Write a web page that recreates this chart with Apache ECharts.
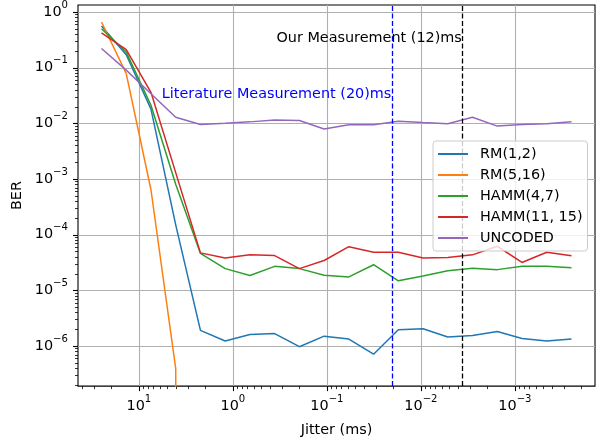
<!DOCTYPE html>
<html><head><meta charset="utf-8">
<script src="https://cdn.jsdelivr.net/npm/echarts@6/dist/echarts.min.js"></script>
<style>html,body{margin:0;padding:0;background:#fff}#c{width:600px;height:442px}</style>
</head><body><div id="c"></div>
<script>
// ---- data ----
const jitter = [25, 13.64, 7.442, 4.060, 2.215, 1.209, 0.6594, 0.3598, 0.1963, 0.1071,
                0.05843, 0.03188, 0.01739, 0.009490, 0.005178, 0.002825, 0.001541, 0.000841, 0.0004588, 0.00025];
const rm12    = [0.56, 0.17, 0.018, 1.5e-4, 1.9e-6, 1.23e-6, 1.61e-6, 1.67e-6, 9.7e-7, 1.5e-6,
                 1.33e-6, 7.1e-7, 1.95e-6, 2.03e-6, 1.45e-6, 1.54e-6, 1.82e-6, 1.36e-6, 1.23e-6, 1.33e-6];
const rm516   = [0.66, 0.078, 6.4e-4, 3.9e-7, 0, 0, 0, 0, 0, 0, 0, 0, 0, 0, 0, 0, 0, 0, 0, 0];
const hamm47  = [0.50, 0.19, 0.021, 8.0e-4, 4.6e-5, 2.45e-5, 1.84e-5, 2.69e-5, 2.45e-5, 1.86e-5,
                 1.74e-5, 2.88e-5, 1.48e-5, 1.81e-5, 2.25e-5, 2.48e-5, 2.35e-5, 2.69e-5, 2.69e-5, 2.55e-5];
const hamm1115 = [0.42, 0.21, 0.036, 1.3e-3, 4.7e-5, 3.79e-5, 4.33e-5, 4.2e-5, 2.45e-5, 3.43e-5,
                  6.08e-5, 4.83e-5, 4.83e-5, 3.79e-5, 3.88e-5, 4.33e-5, 6.18e-5, 3.16e-5, 4.83e-5, 4.16e-5];
const uncoded = [0.22, 0.09, 0.034, 0.0128, 0.0095, 0.0100, 0.0106, 0.0115, 0.0112, 0.0079,
                 0.0094, 0.0094, 0.0109, 0.0103, 0.0098, 0.0128, 0.0089, 0.0095, 0.0098, 0.0107];
const seriesNames = ['RM(1,2)', 'RM(5,16)', 'HAMM(4,7)', 'HAMM(11, 15)', 'UNCODED'];
const seriesValues = [rm12, rm516, hamm47, hamm1115, uncoded];
const xMajorTicks = [10, 1, 0.1, 0.01, 0.001];
const yMajorTicks = [1, 0.1, 0.01, 0.001, 1e-4, 1e-5, 1e-6];
const literatureJitter = 0.02;
const ourJitter = 0.0036;
const annotations = [
  {text: 'Our Measurement (12)ms', x: 0.344, y: 0.336, color: '#000000'},
  {text: 'Literature Measurement (20)ms', x: 5.7, y: 0.0327, color: '#0000ff'}
];

// ---- style ----
const colors = ['#1f77b4', '#ff7f0e', '#2ca02c', '#d62728', '#9467bd'];
const FONT = 'DejaVu Sans';
const FS = 14.4;
const X_MIN = 1.406e-4, X_MAX = 44.46;
const Y_MIN = 1.9e-7, Y_MAX = 1.33;
const ZERO_FLOOR = 1e-100; // log-scale stand-in for zero (clipped like matplotlib)

function minorTicks(lo, hi) {
  const out = [];
  for (let d = -8; d <= 2; d++) {
    for (let m = 2; m <= 9; m++) {
      const v = m * Math.pow(10, d);
      if (v > lo && v < hi) out.push(v);
    }
  }
  return out;
}
const decor = [];
xMajorTicks.forEach(v => decor.push([v, Y_MIN, 0]));
minorTicks(X_MIN, X_MAX).forEach(v => decor.push([v, Y_MIN, 1]));
yMajorTicks.forEach(v => decor.push([X_MAX, v, 2]));
minorTicks(Y_MIN, Y_MAX).forEach(v => decor.push([X_MAX, v, 3]));

function powLabel(v) {
  const e = Math.round(Math.log10(v));
  return '{b|10}{s|' + (e < 0 ? '\u2212' + (-e) : e) + '}';
}
const richLbl = {
  b: {fontFamily: FONT, fontSize: FS, lineHeight: 24, verticalAlign: 'middle', color: '#000'},
  s: {fontFamily: FONT, fontSize: 10.1, lineHeight: 10, padding: [0, 0, 14, 0], verticalAlign: 'middle', color: '#000'}
};

const dashed = [5, 2.5];
const series = seriesNames.map((name, i) => ({
  name, type: 'line', symbol: 'none', showSymbol: false, clip: true, z: 3,
  color: colors[i],
  lineStyle: {width: 1.5, color: colors[i]},
  data: jitter.map((x, k) => [x, seriesValues[i][k] > 0 ? seriesValues[i][k] : ZERO_FLOOR])
}));
series[0].markLine = {
  silent: true, symbol: 'none', label: {show: false}, precision: 8,
  lineStyle: {color: '#0000ff', type: dashed, width: 1.3},
  data: [{xAxis: literatureJitter}]
};
series[3].markLine = {
  silent: true, symbol: 'none', label: {show: false}, precision: 8,
  lineStyle: {color: '#000000', type: dashed, width: 1.3},
  data: [{xAxis: ourJitter}]
};
series[4].markPoint = {
  silent: true,
  data: annotations.map(a => ({
    coord: [a.x, a.y], symbol: 'circle', symbolSize: 0,
    label: {show: true, position: 'right', distance: 0, formatter: a.text,
            color: a.color, fontFamily: FONT, fontSize: FS}
  }))
};
series.push({
  type: 'custom', z: 1, clip: false, silent: true,
  encode: {x: 0, y: 1},
  data: decor,
  renderItem(params, api) {
    const kind = api.value(2);
    const cs = params.coordSys;
    const children = [];
    if (kind < 2) {
      const p = api.coord([api.value(0), Y_MIN]);
      const x = Math.round(p[0]) + 0.5;
      const yb = cs.y + cs.height;
      if (kind === 0) children.push({type: 'line', shape: {x1: x, y1: cs.y, x2: x, y2: yb}, style: {stroke: '#b0b0b0', lineWidth: 1.1}});
      children.push({type: 'line', shape: {x1: x, y1: yb, x2: x, y2: yb + (kind === 0 ? 5 : 3)}, style: {stroke: '#000', lineWidth: kind === 0 ? 1.1 : 0.8}});
    } else {
      const p = api.coord([X_MAX, api.value(1)]);
      const y = Math.round(p[1]) + 0.5;
      if (kind === 2) children.push({type: 'line', shape: {x1: cs.x, y1: y, x2: cs.x + cs.width, y2: y}, style: {stroke: '#b0b0b0', lineWidth: 1.1}});
      children.push({type: 'line', shape: {x1: cs.x, y1: y, x2: cs.x - (kind === 2 ? 5 : 3), y2: y}, style: {stroke: '#000', lineWidth: kind === 2 ? 1.1 : 0.8}});
    }
    return {type: 'group', children};
  }
});

const chart = echarts.init(document.getElementById('c'), null, {renderer: 'canvas'});
chart.setOption({
  animation: false,
  backgroundColor: '#fff',
  grid: {left: 78, right: 5, top: 3, bottom: 53, show: true, borderColor: '#000', borderWidth: 1.1, backgroundColor: 'transparent'},
  xAxis: {
    type: 'log', logBase: 10, min: X_MIN, max: X_MAX, inverse: true,
    name: 'Jitter (ms)', nameLocation: 'middle', nameGap: 35,
    nameTextStyle: {fontFamily: FONT, fontSize: FS, color: '#000'},
    axisLine: {show: false}, axisTick: {show: false}, splitLine: {show: false},
    axisLabel: {formatter: powLabel, rich: richLbl, margin: 8, showMinLabel: false, showMaxLabel: false}
  },
  yAxis: {
    type: 'log', logBase: 10, min: Y_MIN, max: Y_MAX,
    name: 'BER', nameLocation: 'middle', nameGap: 48,
    nameTextStyle: {fontFamily: FONT, fontSize: FS, color: '#000'},
    axisLine: {show: false}, axisTick: {show: false}, splitLine: {show: false},
    axisLabel: {formatter: powLabel, rich: richLbl, margin: 10, showMinLabel: false, showMaxLabel: false}
  },
  legend: {
    z: 20,
    data: seriesNames, orient: 'vertical', left: 433, top: 141,
    icon: 'rect', itemWidth: 30, itemHeight: 2, itemGap: 5,
    padding: [5, 5, 5, 5],
    backgroundColor: 'rgba(255,255,255,0.8)', borderColor: '#cccccc', borderWidth: 1, borderRadius: 3,
    textStyle: {fontFamily: FONT, fontSize: FS, color: '#000', lineHeight: 16, padding: [0, 0, 0, 7]}
  },
  series
});
</script></body></html>
